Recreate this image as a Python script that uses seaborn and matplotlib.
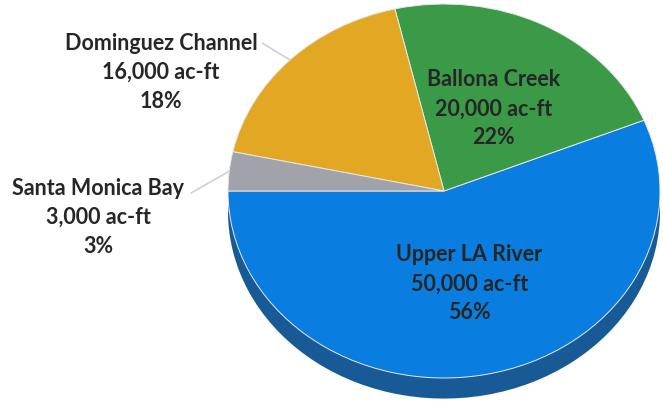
import numpy as np
import matplotlib
matplotlib.use('Agg')
import matplotlib.pyplot as plt
import seaborn as sns

# valores (ac-ft)
regioes = ['Upper LA River', 'Ballona Creek', 'Dominguez Channel', 'Santa Monica Bay']
volumes = [50000, 20000, 16000, 3000]
rotulos_vol = ['50,000 ac-ft', '20,000 ac-ft', '16,000 ac-ft', '3,000 ac-ft']
rotulos_pct = ['56%', '22%', '18%', '3%']

cores = ['#0a7ee0', '#3a9a48', '#e3a823', '#a2a2aa']
cores_lado = ['#175a96', '#286b33', '#9e7518', '#6f6f75']

sns.set_theme(style='white')
plt.rcParams['font.family'] = ['Lato', 'DejaVu Sans']

fig = plt.figure(figsize=(6.63, 4.06), dpi=100)
ax = fig.add_axes([0, 0, 1, 1])

# lateral "3D" (pizza escura deslocada pra baixo)
ax.pie(volumes, colors=cores_lado, startangle=180, counterclock=True,
       center=(0, -0.11), wedgeprops=dict(linewidth=0))
wedges, _ = ax.pie(volumes, colors=cores, startangle=180, counterclock=True,
                   wedgeprops=dict(edgecolor='#e8e8e8', linewidth=0.7))

ax.set_aspect('auto')
ax.set_xlim(-444 / 216, (663 - 444) / 216)
ax.set_ylim(-214 / 187, (406 - 214) / 187)
ax.axis('off')

cor_txt = '#262626'
fonte = dict(fontsize=15.5, fontweight='bold', color=cor_txt, ha='center', va='center',
             linespacing=1.47)

# rotulos internos
for i in [0, 1]:
    w = wedges[i]
    ang = np.deg2rad((w.theta1 + w.theta2) / 2)
    r = 0.5
    ax.text(r * np.cos(ang) + (0.02 if i == 0 else 0.0), r * np.sin(ang),
            f'{regioes[i]}\n{rotulos_vol[i]}\n{rotulos_pct[i]}', **fonte)

# rotulos externos com linha guia
pos_ext = {2: (-1.31, 0.64), 3: (-1.6, -0.135)}
inicio_linha = {2: (-0.84, 0.79), 3: (-1.17, -0.01)}
for i in [2, 3]:
    w = wedges[i]
    ang = np.deg2rad((w.theta1 + w.theta2) / 2)
    xe, ye = np.cos(ang), np.sin(ang)
    ax.plot([inicio_linha[i][0], xe], [inicio_linha[i][1], ye], color='#d0d0d0', lw=1.2, zorder=1)
    ax.text(pos_ext[i][0], pos_ext[i][1],
            f'{regioes[i]}\n{rotulos_vol[i]}\n{rotulos_pct[i]}', **fonte)

fig.savefig('out.png', dpi=100)
